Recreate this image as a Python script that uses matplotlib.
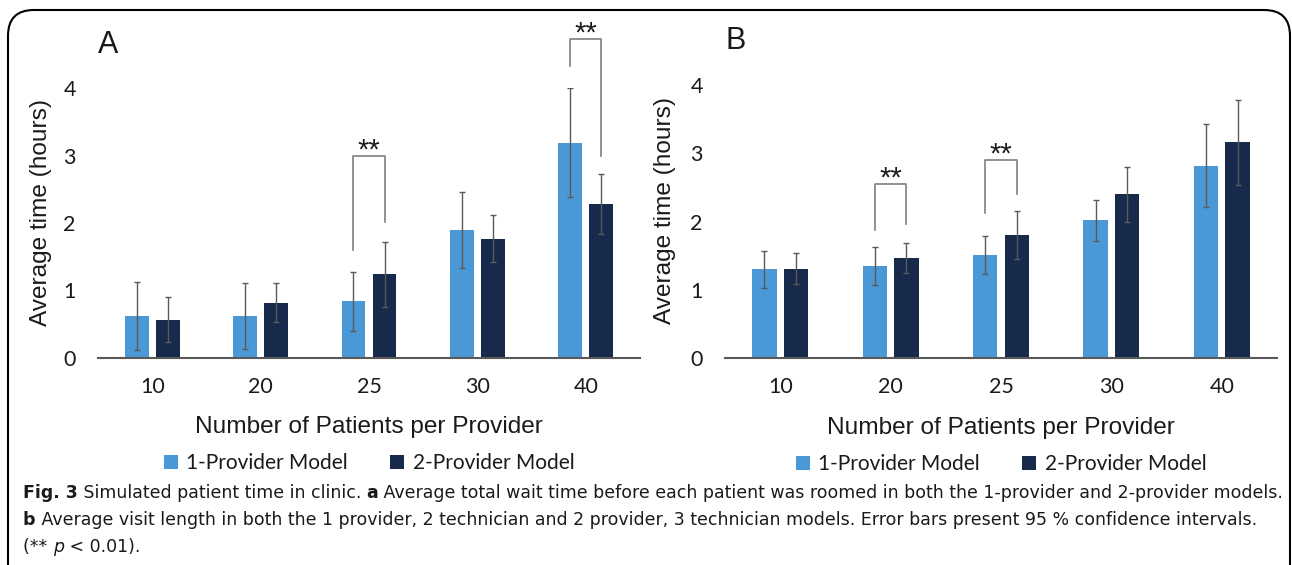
import matplotlib
matplotlib.use("Agg")
import matplotlib.pyplot as plt
from matplotlib.patches import FancyBboxPatch
import numpy as np

W, H = 1292, 565

patients = ["10", "20", "25", "30", "40"]
series_names = ["1-Provider Model", "2-Provider Model"]

# panel A: average wait time before rooming (hours)
wait_one = [0.62, 0.62, 0.84, 1.90, 3.19]
wait_one_ci = [0.50, 0.49, 0.44, 0.56, 0.81]
wait_two = [0.57, 0.82, 1.24, 1.77, 2.28]
wait_two_ci = [0.34, 0.29, 0.48, 0.35, 0.44]
# (group, left leg bottom, top, right leg bottom)
wait_sig = [(2, 1.60, 2.99, 2.01), (4, 4.32, 4.72, 2.99)]

# panel B: average visit length (hours)
visit_one = [1.30, 1.35, 1.51, 2.02, 2.82]
visit_one_ci = [0.27, 0.28, 0.28, 0.30, 0.61]
visit_two = [1.31, 1.47, 1.80, 2.40, 3.16]
visit_two_ci = [0.23, 0.22, 0.35, 0.40, 0.62]
visit_sig = [(1, 1.88, 2.55, 1.97), (2, 2.12, 2.90, 2.41)]

LIGHT = "#4b98d7"
DARK = "#172a4b"
GREY = "#7f7f7f"
TXT = "#1a1a1a"

fig = plt.figure(figsize=(W / 100, H / 100), dpi=100)

def px_box(left, right, top, bottom):
    return [left / W, 1 - bottom / H, (right - left) / W, (bottom - top) / H]

def draw_panel(ax, letter, one, one_ci, two, two_ci, sig, ylab_x):
    x = np.arange(len(patients))
    off, bw = 0.143, 0.22
    ax.bar(x - off, one, bw, color=LIGHT, label=series_names[0], zorder=2)
    ax.bar(x + off, two, bw, color=DARK, label=series_names[1], zorder=2)
    ax.errorbar(x - off, one, yerr=one_ci, fmt="none", ecolor="#5a5a5a",
                elinewidth=1, capsize=2, capthick=1, zorder=3)
    ax.errorbar(x + off, two, yerr=two_ci, fmt="none", ecolor="#5a5a5a",
                elinewidth=1, capsize=2, capthick=1, zorder=3)
    for g, lo_l, top, lo_r in sig:
        ax.plot([g - off, g - off, g + off, g + off], [lo_l, top, top, lo_r],
                color=GREY, lw=1.2, clip_on=False, zorder=4)
        ax.text(g, top - 0.12, "**", ha="center", va="bottom", fontsize=21,
                family="Liberation Sans", color=TXT, clip_on=False)
    ax.set_xlim(-0.5, len(patients) - 0.5)
    ax.set_ylim(0, 4)
    ax.set_yticks([0, 1, 2, 3, 4])
    ax.set_xticks(x)
    ax.set_xticklabels(patients)
    for s in ["top", "right", "left"]:
        ax.spines[s].set_visible(False)
    ax.spines["bottom"].set_color("#595959")
    ax.spines["bottom"].set_linewidth(1.5)
    ax.tick_params(length=0, labelsize=15.5, colors=TXT)
    ax.tick_params(axis="y", pad=16)
    ax.tick_params(axis="x", pad=14)
    for lab in ax.get_xticklabels() + ax.get_yticklabels():
        lab.set_family("Lato")
    ax.set_ylabel("Average time (hours)", fontsize=17.6, family="Liberation Sans", color=TXT)
    ax.yaxis.set_label_coords(ylab_x, 0.54)
    ax.set_xlabel("Number of Patients per Provider", fontsize=17.6,
                  family="Liberation Sans", color=TXT)
    ax.xaxis.set_label_coords(0.5, -0.215)
    ax.text(0.0, 1.16, letter, transform=ax.transAxes, fontsize=22,
            family="Liberation Sans", color=TXT, ha="left", va="center")
    leg = ax.legend(loc="center", bbox_to_anchor=(0.5, -0.39), ncol=2,
                    frameon=False, handlelength=0.7, handleheight=0.7,
                    handletextpad=0.4, columnspacing=2.0,
                    prop={"family": "Lato", "size": 15})
    for t in leg.get_texts():
        t.set_color(TXT)

ax_a = fig.add_axes(px_box(98, 640, 88, 358))
draw_panel(ax_a, "A", wait_one, wait_one_ci, wait_two, wait_two_ci, wait_sig, -0.085)
ax_b = fig.add_axes(px_box(725, 1277, 85, 358))
draw_panel(ax_b, "B", visit_one, visit_one_ci, visit_two, visit_two_ci, visit_sig, -0.089)

# rounded frame, open at the bottom
frame = FancyBboxPatch((8 / W, -0.2), (1282 / W), 1 - 10 / H + 0.2,
                       boxstyle="round,pad=0,rounding_size=0.02",
                       transform=fig.transFigure, fill=False,
                       edgecolor="black", lw=1.5, mutation_aspect=W / H)
fig.patches.append(frame)

# caption with mixed styles
caption = [
    [("Fig. 3", "bold", "normal"), (" Simulated patient time in clinic. ", "normal", "normal"),
     ("a", "bold", "normal"),
     (" Average total wait time before each patient was roomed in both the 1-provider and 2-provider models.", "normal", "normal")],
    [("b", "bold", "normal"),
     (" Average visit length in both the 1 provider, 2 technician and 2 provider, 3 technician models. Error bars present 95 % confidence intervals.", "normal", "normal")],
    [("(** ", "normal", "normal"), ("p", "normal", "italic"), (" < 0.01).", "normal", "normal")],
]
cap_y = [493, 520, 547]
renderer = fig.canvas.get_renderer()
for runs, y in zip(caption, cap_y):
    x = 23
    for text, weight, style in runs:
        t = fig.text(x / W, 1 - y / H, text, fontsize=12.5, fontweight=weight,
                     fontstyle=style, family="DejaVu Sans", color=TXT,
                     ha="left", va="center")
        x += t.get_window_extent(renderer).width

fig.savefig("out.png", dpi=100)
